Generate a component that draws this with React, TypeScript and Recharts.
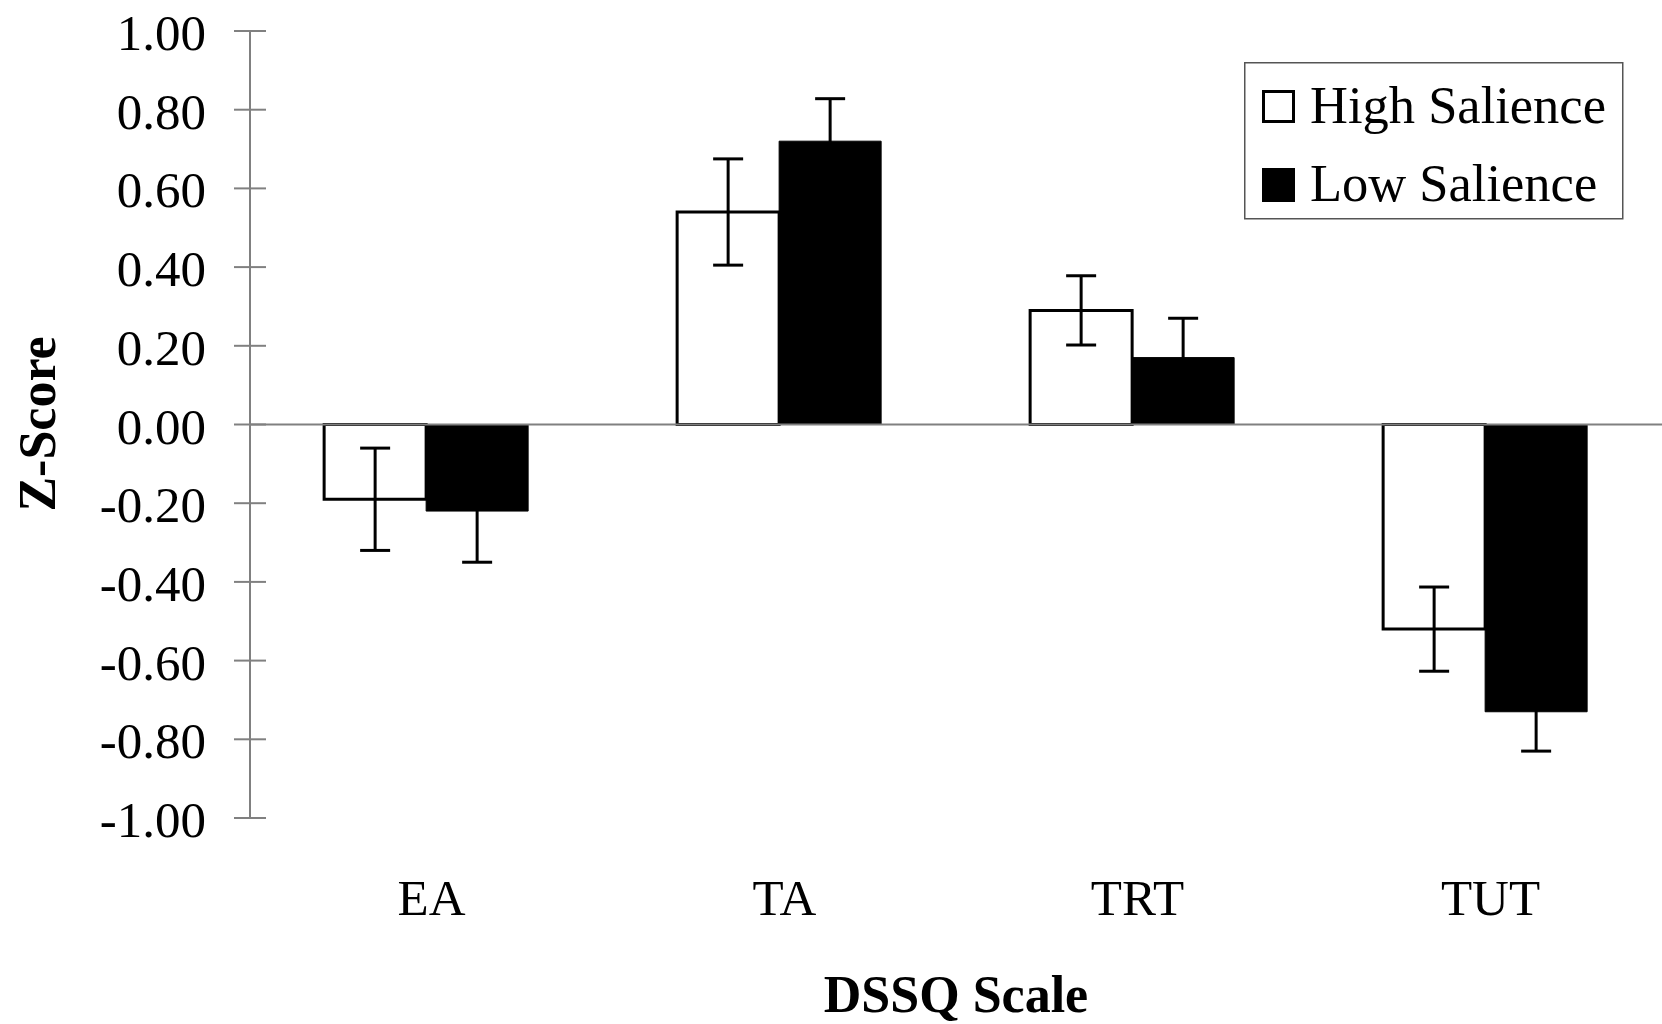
import { BarChart, Bar, XAxis, YAxis, ReferenceLine, ErrorBar, Legend } from "recharts";

const FONT = "'Liberation Serif', 'Times New Roman', serif";

// DSSQ scales on the x axis
const categories = ["EA", "TA", "TRT", "TUT"];
// mean z-scores
const highSalience = [-0.19, 0.54, 0.29, -0.52];
const lowSalience = [-0.22, 0.72, 0.17, -0.73];
// error bar half-lengths
const highErr = [0.13, 0.135, 0.088, 0.107];
const lowErr = [0.13, 0.108, 0.1, 0.1];
const yTicks = [-1, -0.8, -0.6, -0.4, -0.2, 0, 0.2, 0.4, 0.6, 0.8, 1];

const data = categories.map((name, i) => ({
  name,
  high: highSalience[i],
  low: lowSalience[i],
  highErr: highErr[i],
  lowErr: lowErr[i],
}));

function YTick({ x, y, payload }: any) {
  return (
    <g>
      <line x1={x - 16} x2={x + 16} y1={y} y2={y} stroke="#808080" strokeWidth={2} />
      <text
        x={x - 44}
        y={y + 2}
        textAnchor="end"
        dominantBaseline="central"
        fontSize={51}
        fontFamily={FONT}
        fill="#000"
      >
        {Number(payload.value).toFixed(2)}
      </text>
    </g>
  );
}

// category labels sit a little right of the bar pair centre in the original
function XTick({ x, y, payload }: any) {
  return (
    <text x={x + 5} y={y + 97} textAnchor="middle" fontSize={51} fontFamily={FONT} fill="#000">
      {payload.value}
    </text>
  );
}

function LegendBox() {
  return (
    <svg width={380} height={158} style={{ display: "block" }}>
      <rect x={0.75} y={0.75} width={378} height={156} fill="#fff" stroke="#555" strokeWidth={1.5} />
      <rect x={19.5} y={29.5} width={30} height={30} fill="#fff" stroke="#000" strokeWidth={3} />
      <text x={66} y={61} fontSize={52.5} fontFamily={FONT} fill="#000">High Salience</text>
      <rect x={18} y={106} width={33} height={34} fill="#000" />
      <text x={66} y={139} fontSize={52.5} fontFamily={FONT} fill="#000">Low Salience</text>
    </svg>
  );
}

export default function App() {
  return (
    <div style={{ position: "absolute", left: 0, top: 0, width: 1662, height: 1024, background: "#fff" }}>
      <BarChart
        width={1662}
        height={1024}
        data={data}
        margin={{ top: 31, right: 0, left: 0, bottom: 0 }}
        barCategoryGap="21%"
        barGap={0}
      >
        <XAxis
          dataKey="name"
          height={206}
          axisLine={false}
          tickLine={false}
          tickSize={0}
          tickMargin={0}
          tick={<XTick />}
          interval={0}
          label={({ viewBox }: any) => (
            <text
              x={viewBox.x + viewBox.width / 2}
              y={viewBox.y + 194}
              textAnchor="middle"
              fontSize={52}
              fontWeight="bold"
              fontFamily={FONT}
              fill="#000"
            >
              DSSQ Scale
            </text>
          )}
        />
        <YAxis
          width={250}
          domain={[-1, 1]}
          ticks={yTicks}
          interval={0}
          axisLine={{ stroke: "#808080", strokeWidth: 2 }}
          tickLine={false}
          tickSize={0}
          tickMargin={0}
          tick={<YTick />}
          label={() => (
            <text
              x={37}
              y={424}
              transform="rotate(-90 37 424)"
              textAnchor="middle"
              dominantBaseline="central"
              fontSize={52}
              fontWeight="bold"
              fontFamily={FONT}
              fill="#000"
            >
              Z-Score
            </text>
          )}
        />
        <ReferenceLine y={0} stroke="#808080" strokeWidth={2} />
        <Legend
          layout="horizontal"
          verticalAlign="middle"
          align="center"
          content={<LegendBox />}
          wrapperStyle={{ position: "absolute", left: 1244, top: 62, width: 380, height: 158 }}
        />
        <Bar dataKey="high" fill="#fff" stroke="#000" strokeWidth={3} isAnimationActive={false}>
          <ErrorBar dataKey="highErr" width={15} stroke="#000" strokeWidth={3} isAnimationActive={false} />
        </Bar>
        <Bar dataKey="low" fill="#000" stroke="#000" strokeWidth={1} isAnimationActive={false}>
          <ErrorBar dataKey="lowErr" width={15} stroke="#000" strokeWidth={3} isAnimationActive={false} />
        </Bar>
      </BarChart>
    </div>
  );
}
